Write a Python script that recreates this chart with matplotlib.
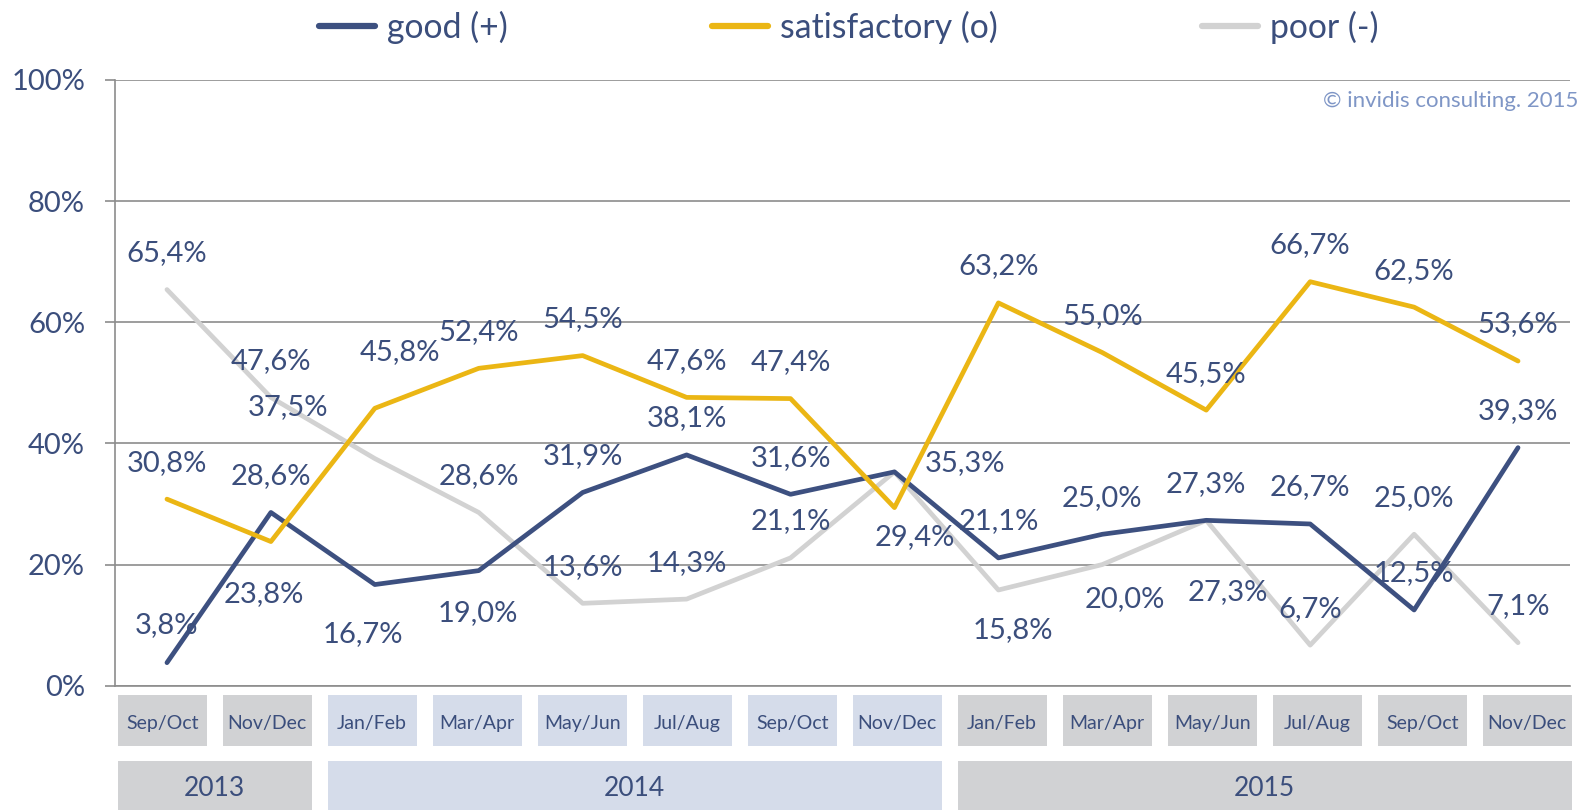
import matplotlib
matplotlib.use("Agg")
import matplotlib.pyplot as plt
from matplotlib.patches import Rectangle
from matplotlib.lines import Line2D

plt.rcParams['font.family'] = ['Lato', 'DejaVu Sans']

# ---------------- data ----------------
periods = ["Sep/Oct", "Nov/Dec",
           "Jan/Feb", "Mar/Apr", "May/Jun", "Jul/Aug", "Sep/Oct", "Nov/Dec",
           "Jan/Feb", "Mar/Apr", "May/Jun", "Jul/Aug", "Sep/Oct", "Nov/Dec"]
years = ["2013", "2014", "2015"]
year_counts = [2, 6, 6]

good = [3.8, 28.6, 16.7, 19.0, 31.9, 38.1, 31.6, 35.3, 21.1, 25.0, 27.3, 26.7, 12.5, 39.3]
satisfactory = [30.8, 23.8, 45.8, 52.4, 54.5, 47.6, 47.4, 29.4, 63.2, 55.0, 45.5, 66.7, 62.5, 53.6]
poor = [65.4, 47.6, 37.5, 28.6, 13.6, 14.3, 21.1, 35.3, 15.8, 20.0, 27.3, 6.7, 25.0, 7.1]

series_names = ["good (+)", "satisfactory (o)", "poor (-)"]

# ---------------- style ----------------
TXT = "#3B4E7C"
C_GOOD = "#3D5080"
C_SAT = "#EBB614"
C_POOR = "#D2D2D2"
GRID = "#8C8C8C"
BOX_GRAY = "#D1D2D4"
BOX_BLUE = "#D5DCEA"
year_colors = [BOX_GRAY, BOX_BLUE, BOX_GRAY]

W, H = 1584, 810
fig = plt.figure(figsize=(W / 100, H / 100), dpi=100)

ax_l, ax_r, ax_t, ax_b = 115, 1570, 80, 685.7
ax = fig.add_axes([ax_l / W, 1 - ax_b / H, (ax_r - ax_l) / W, (ax_b - ax_t) / H])

x = list(range(len(periods)))
lw = 3.4
for vals, col, name in [(poor, C_POOR, series_names[2]),
                        (good, C_GOOD, series_names[0]),
                        (satisfactory, C_SAT, series_names[1])]:
    ax.plot(x, vals, color=col, lw=lw, solid_capstyle='round',
            solid_joinstyle='round', label=name, zorder=3)

ax.set_xlim(-0.5, len(periods) - 0.5)
ax.set_ylim(0, 100)
ax.set_yticks([0, 20, 40, 60, 80, 100])
ax.set_yticklabels([f"{t}%" for t in [0, 20, 40, 60, 80, 100]])
ax.set_xticks([])
ax.tick_params(axis='y', length=7.2, width=1.2, color=GRID, pad=14.4,
               labelsize=21, labelcolor=TXT)
ax.grid(axis='y', color=GRID, lw=1.2, zorder=1)
for s in ['top', 'right']:
    ax.spines[s].set_visible(False)
for s in ['left', 'bottom']:
    ax.spines[s].set_color(GRID)
    ax.spines[s].set_linewidth(1.2)

# data labels: pixel offsets (dx, dy) of label centre from point; None = hidden
D = (0, -36.5)
off_good = [(0, -38), D, (-12, 49), (-1, 42), D, D, D, (71, -9), D, D, D, D, D, D]
off_sat = [D, (-7, 53), (25, -56), D, D, D, D, (20, 29), D, D, D, D, D, D]
off_poor = [D, D, (-87, -52), D, D, D, D, None, (14, 40), (22, 34), (22, 72), D, D, D]

for vals, offs in [(good, off_good), (satisfactory, off_sat), (poor, off_poor)]:
    for i, (v, o) in enumerate(zip(vals, offs)):
        if o is None:
            continue
        ax.annotate(f"{v:.1f}%".replace('.', ','), (i, v),
                    xytext=(o[0] * 0.72, -o[1] * 0.72), textcoords='offset points',
                    ha='center', va='center', fontsize=21, color=TXT, zorder=5)

# legend
handles = [Line2D([], [], color=C_GOOD, lw=4.5, solid_capstyle='round'),
           Line2D([], [], color=C_SAT, lw=4.5, solid_capstyle='round'),
           Line2D([], [], color=C_POOR, lw=4.5, solid_capstyle='round')]
fs_leg = 24.3
px_per_em = fs_leg * 100 / 72
fig.legend(handles, series_names, loc='center', ncol=3, frameon=False,
           bbox_to_anchor=(848.5 / W, 1 - 27 / H), fontsize=fs_leg,
           labelcolor=TXT, handlelength=56 / px_per_em, handletextpad=12 / px_per_em,
           columnspacing=204 / px_per_em, borderpad=0, borderaxespad=0)

# copyright
fig.text(1578 / W, 1 - 101 / H, "© invidis consulting. 2015", ha='right',
         va='center', fontsize=16, color="#7F96C6")

# category boxes
box_x0, box_step, box_w = 117.7, 105.0, 89.0
mb_top, mb_bot = 695, 746
yb_top, yb_bot = 761, 812
month_colors = []
for yc, n in zip(year_colors, year_counts):
    month_colors += [yc] * n

def fx(px):
    return px / W

def fy(py):
    return 1 - py / H

for i, lab in enumerate(periods):
    left = box_x0 + box_step * i
    fig.patches.append(Rectangle((fx(left), fy(mb_bot)), box_w / W, (mb_bot - mb_top) / H,
                                 transform=fig.transFigure, facecolor=month_colors[i],
                                 edgecolor='none', zorder=0))
    fig.text(fx(left + box_w / 2), fy(723.5), lab, ha='center',
             va='center', fontsize=14, color=TXT)

start = 0
for yl, n, yc in zip(years, year_counts, year_colors):
    left = box_x0 + box_step * start
    right = box_x0 + box_step * (start + n - 1) + box_w
    fig.patches.append(Rectangle((fx(left), fy(yb_bot)), (right - left) / W, (yb_bot - yb_top) / H,
                                 transform=fig.transFigure, facecolor=yc,
                                 edgecolor='none', zorder=0))
    fig.text(fx((left + right) / 2), fy(789), yl, ha='center', va='center',
             fontsize=19, color=TXT)
    start += n

fig.savefig("out.png", dpi=100)
